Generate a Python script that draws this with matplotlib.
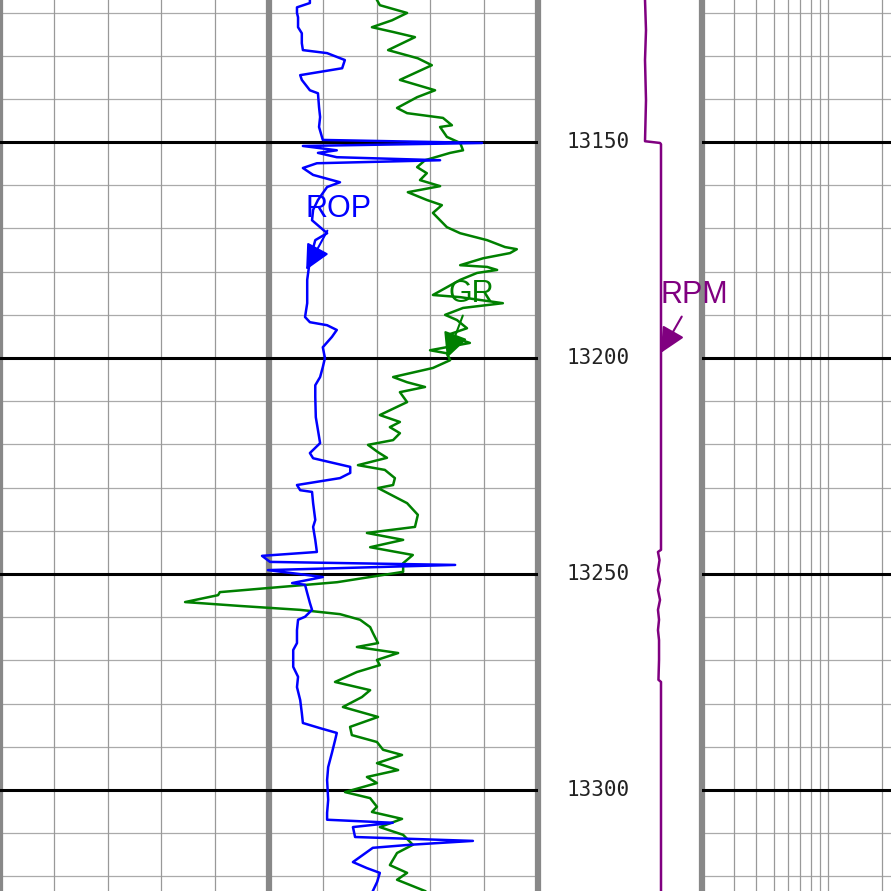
import numpy as np
import matplotlib.pyplot as plt
from matplotlib import font_manager

# depth window shown (ft)
top_depth = 13117.1
bottom_depth = 13323.4
depth_marks = [13150, 13200, 13250, 13300]

# ROP (ft/hr), scale 0..100
rop_depth = [13117.1, 13117.8, 13118.8, 13120.1, 13121.1, 13123.4, 13124.8, 13127.1, 13128.7,
             13129.4, 13131.0, 13132.9, 13134.5, 13135.6, 13138.0, 13138.7, 13141.9, 13144.2,
             13146.5, 13149.5, 13150.2, 13150.9, 13151.9, 13152.5, 13153.5, 13154.2, 13154.9,
             13156.0, 13157.6, 13159.3, 13160.4, 13163.4, 13165.7, 13168.1, 13171.1, 13172.7,
             13177.3, 13181.9, 13187.3, 13190.5, 13191.7, 13192.4, 13193.5, 13195.1, 13197.5,
             13200.0, 13202.1, 13204.4, 13206.3, 13209.0, 13213.7, 13216.7, 13219.7, 13222.0,
             13223.2, 13225.2, 13226.6, 13227.8, 13229.4, 13230.6, 13231.0, 13233.6, 13237.5,
             13239.1, 13242.1, 13244.9, 13245.8, 13247.2, 13247.9, 13249.1, 13250.7, 13252.1,
             13252.5, 13254.4, 13256.7, 13258.3, 13259.9, 13260.6, 13263.0, 13266.0, 13267.6,
             13271.5, 13273.8, 13276.2, 13279.2, 13282.2, 13284.5, 13285.7, 13286.8, 13288.4,
             13291.4, 13294.7, 13297.7, 13302.3, 13305.3, 13306.9, 13307.6, 13308.6, 13310.9,
             13311.8, 13312.7, 13313.4, 13316.7, 13318.1, 13319.2, 13321.3, 13323.4]
rop_vals = [57.6, 57.6, 55.2, 55.2, 55.4, 55.4, 56.1, 56.1, 56.3,
            60.8, 64.1, 63.6, 55.8, 56.1, 57.6, 59.1, 59.3, 59.5,
            59.3, 60.0, 89.6, 56.3, 62.6, 59.1, 62.6, 81.8, 58.9,
            56.3, 58.2, 63.2, 60.8, 59.1, 58.2, 58.0, 60.8, 58.6,
            57.6, 57.1, 57.1, 56.7, 57.6, 60.8, 62.6, 61.7, 60.0,
            60.4, 60.0, 59.5, 58.6, 58.6, 58.7, 59.1, 59.5, 57.6,
            58.2, 65.1, 65.1, 63.2, 55.2, 55.8, 58.0, 58.2, 58.6,
            58.2, 58.6, 58.9, 48.7, 50.2, 84.6, 49.8, 60.0, 54.3,
            56.7, 57.1, 57.6, 58.0, 56.7, 55.4, 55.2, 55.2, 54.5,
            54.5, 55.4, 55.2, 55.8, 56.1, 56.3, 59.5, 62.6, 62.3,
            61.7, 61.0, 60.8, 61.0, 60.8, 60.8, 73.0, 65.6, 66.0,
            87.9, 76.2, 69.3, 65.6, 68.2, 70.6, 70.1, 69.3]

# Gamma ray (API), scale 0..150
gr_depth = [13117.1, 13118.3, 13120.1, 13121.8, 13123.4, 13124.5, 13125.7, 13128.7, 13130.6,
            13132.2, 13135.6, 13138.0, 13139.6, 13142.1, 13143.3, 13144.4, 13146.1, 13146.5,
            13148.8, 13150.2, 13151.9, 13152.5, 13154.2, 13155.8, 13157.2, 13158.8, 13160.2,
            13161.6, 13163.4, 13164.6, 13166.4, 13169.7, 13171.1, 13172.7, 13174.3, 13174.8,
            13175.7, 13176.9, 13178.5, 13178.9, 13179.6, 13180.3, 13181.9, 13185.4, 13185.9,
            13187.3, 13188.4, 13190.0, 13191.2, 13193.1, 13194.7, 13196.5, 13198.2, 13198.9,
            13200.5, 13202.3, 13204.4, 13205.6, 13206.7, 13207.9, 13210.2, 13213.2, 13214.8,
            13216.0, 13217.4, 13219.0, 13220.1, 13221.8, 13223.1, 13224.8, 13225.9, 13227.8,
            13229.4, 13230.1, 13233.6, 13236.3, 13239.1, 13240.5, 13242.1, 13243.8, 13245.6,
            13247.5, 13249.5, 13251.9, 13254.2, 13254.9, 13256.5, 13257.4, 13258.3, 13259.3,
            13260.6, 13262.3, 13263.7, 13266.0, 13266.9, 13268.3, 13269.9, 13271.1, 13272.7,
            13275.0, 13276.9, 13278.5, 13280.8, 13283.1, 13285.4, 13287.3, 13288.9, 13290.7,
            13291.9, 13293.8, 13295.4, 13297.0, 13298.4, 13300.5, 13301.9, 13303.9, 13305.1,
            13306.7, 13308.6, 13310.4, 13312.7, 13314.6, 13317.4, 13319.2, 13320.8, 13323.4]
gr_vals = [105.1, 105.9, 113.5, 109.3, 103.7, 109.6, 115.7, 108.2, 116.5,
           120.4, 111.5, 121.3, 116.3, 110.7, 113.5, 123.5, 126.0, 122.7,
           124.6, 128.3, 129.1, 125.5, 118.5, 116.3, 119.0, 117.1, 122.7,
           113.7, 119.0, 123.2, 120.7, 124.6, 128.3, 135.8, 140.8, 144.1,
           142.2, 134.7, 128.3, 135.8, 138.6, 133.0, 128.3, 120.7, 128.3,
           140.2, 129.1, 124.1, 127.4, 130.2, 124.6, 131.0, 119.9, 124.6,
           125.5, 120.7, 109.6, 113.5, 118.5, 111.5, 113.5, 105.9, 111.5,
           108.7, 111.5, 109.6, 102.6, 105.4, 107.9, 99.8, 107.3, 110.1,
           109.6, 105.4, 113.5, 116.5, 115.7, 102.3, 112.4, 103.2, 115.1,
           112.4, 112.4, 94.0, 61.3, 60.8, 51.6, 66.9, 83.6, 94.8,
           100.4, 103.2, 104.0, 105.4, 99.5, 111.0, 105.1, 105.9, 99.5,
           93.4, 103.2, 100.9, 95.6, 105.4, 97.6, 98.1, 105.1, 106.8,
           112.1, 105.1, 111.0, 102.3, 105.1, 96.2, 103.2, 105.1, 103.7,
           112.1, 105.9, 112.4, 115.1, 110.7, 108.7, 113.5, 110.7, 118.5]

# RPM, scale 0..200 in the depth track
rpm_depth = [13117.1, 13124.1, 13131.0, 13140.3, 13149.8, 13150.2, 13150.5, 13244.4, 13244.9,
             13246.8, 13249.1, 13251.4, 13253.7, 13256.0, 13258.3, 13260.6, 13263.0, 13265.3,
             13269.9, 13274.5, 13275.0, 13323.4]
rpm_vals = [130.5, 131.7, 130.5, 131.7, 130.5, 148.8, 150.0, 150.0, 146.3,
            148.2, 146.3, 148.8, 146.3, 148.8, 146.3, 147.6, 146.3, 147.6,
            147.6, 146.9, 150.0, 150.0]

grid_gray = '#999999'
track_gray = '#888888'
W, H = 891, 891

installed = {f.name for f in font_manager.fontManager.ttflist}
if 'Liberation Sans Narrow' in installed:
    label_font, label_size = 'Liberation Sans Narrow', 23
else:
    label_font, label_size = 'Liberation Sans', 22

fig = plt.figure(figsize=(W / 100, H / 100), dpi=100)
ax = fig.add_axes([0, 0, 538 / W, 1])
axd = fig.add_axes([538 / W, 0, 164 / W, 1])
axl = fig.add_axes([702 / W, 0, 189 / W, 1])

for a in (ax, axd, axl):
    a.set_ylim(bottom_depth, top_depth)
    a.set_axis_off()

ax.set_xlim(0, 150)
axd.set_xlim(0, 200)
axl.set_xscale('log')
axl.set_xlim(2, 22.3)

# depth grid (not in the depth track)
for d in range(13120, 13330, 10):
    for a in (ax, axl):
        if d % 50 == 0:
            a.axhline(d, color='black', lw=2.2, zorder=2)
        else:
            a.axhline(d, color='#aaaaaa', lw=0.9, zorder=1)

for g in range(15, 150, 15):
    if g != 75:
        ax.axvline(g, color=grid_gray, lw=0.9, zorder=1)
for g in [0, 75, 150]:
    ax.axvline(g, color=track_gray, lw=4.5, zorder=1.5, clip_on=False)
for v in [3, 4, 5, 6, 7, 8, 9, 10, 20]:
    axl.axvline(v, color=grid_gray, lw=0.9, zorder=1)
axl.axvline(2, color=track_gray, lw=4.5, zorder=1.5, clip_on=False)

ax.plot(gr_vals, gr_depth, color='green', lw=1.8, zorder=3)

axr = ax.twiny()
axr.set_xlim(0, 100)
axr.set_ylim(bottom_depth, top_depth)
axr.set_axis_off()
axr.plot(rop_vals, rop_depth, color='blue', lw=1.8, zorder=3)

axd.set_zorder(5)
axd.plot(rpm_vals, rpm_depth, color='purple', lw=1.8)
for d in depth_marks:
    axd.text(0.366, d, str(d), transform=axd.get_yaxis_transform(), ha='center', va='center',
             fontsize=15, family='DejaVu Sans Mono', color='#222222')

head = '-|>,head_length=0.55,head_width=0.27'
arrow_kw = dict(arrowstyle=head, lw=1.5, mutation_scale=28, shrinkA=3, shrinkB=0)
axr.annotate('ROP', xy=(56.9, 13179.6), xytext=(63.0, 13167.4), color='blue',
             fontsize=label_size, family=label_font, ha='center', va='baseline',
             arrowprops=dict(color='blue', **arrow_kw))
ax.annotate('GR', xy=(124.6, 13200.0), xytext=(131.3, 13187.0), color='green',
            fontsize=label_size, family=label_font, ha='center', va='baseline',
            arrowprops=dict(color='green', **arrow_kw))
axd.annotate('RPM', xy=(150.0, 13198.8), xytext=(190.2, 13187.3), color='purple',
             fontsize=label_size, family=label_font, ha='center', va='baseline',
             arrowprops=dict(color='purple', **arrow_kw))

fig.savefig('out.png', dpi=100)
